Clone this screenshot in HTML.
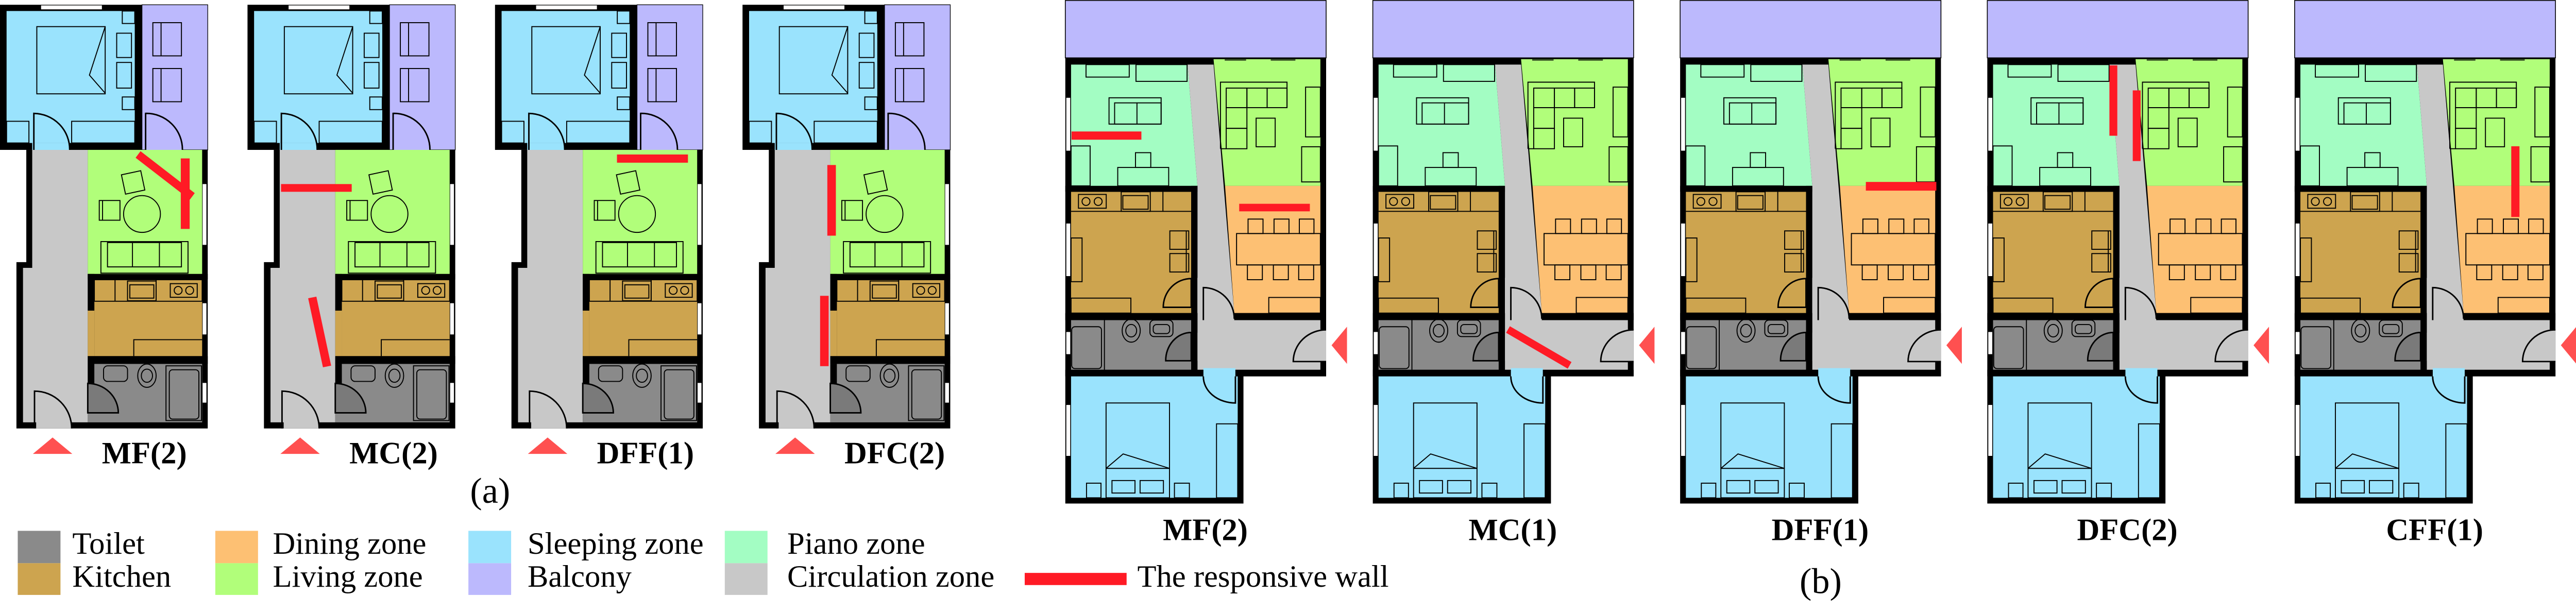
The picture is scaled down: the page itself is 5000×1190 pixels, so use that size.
<!DOCTYPE html>
<html><head><meta charset="utf-8"><style>html,body{margin:0;padding:0;background:#fff}svg{display:block}</style></head>
<body>
<svg xmlns="http://www.w3.org/2000/svg" xmlns:xlink="http://www.w3.org/1999/xlink" width="5000" height="1190" viewBox="0 0 1567.4 373" preserveAspectRatio="none">
<defs>
<g id="A" stroke-linejoin="miter">
  <!-- top block -->
  <rect x="0" y="2.9" width="86.4" height="88.3" fill="#000"/>
  <rect x="4" y="6.7" width="78" height="80.3" fill="#9ae3fd"/>
  <rect x="86.4" y="2.9" width="40" height="88.3" fill="#bcb9fd" stroke="#000" stroke-width="0.4"/>
  <rect x="126.4" y="2.9" width="0.01" height="88"/>
  <rect x="25" y="3.3" width="37" height="2.4" fill="#fff"/>
  <g fill="none" stroke="#000" stroke-width="0.6">
    <rect x="22.4" y="16.2" width="41.6" height="40.9"/>
    <polyline points="64,16.2 54.4,45.7 64,56.7"/>
    <rect x="71" y="20.2" width="9" height="14.8"/>
    <rect x="71" y="38" width="9" height="15.6"/>
    <rect x="74.4" y="6.7" width="7.6" height="7.6"/>
    <rect x="74.4" y="59" width="7.6" height="7.7"/>
    <rect x="4" y="73.8" width="13.6" height="13.2"/>
    <rect x="43.6" y="73.8" width="38.4" height="13.2"/>
    <rect x="93" y="13.8" width="17.4" height="20.2"/>
    <line x1="98" y1="13.8" x2="98" y2="34"/>
    <rect x="93" y="41.7" width="17.4" height="20.2"/>
    <line x1="98" y1="41.7" x2="98" y2="61.9"/>
  </g>
  <rect x="19.6" y="87" width="22.8" height="4.3" fill="#9ae3fd"/>
  <rect x="88.6" y="87" width="22.4" height="4.3" fill="#bcb9fd"/>
  <path d="M20.6,91.2 L20.6,69 A22,22 0 0 1 42.4,91.2" fill="none" stroke="#000" stroke-width="0.9"/>
  <path d="M88.6,91.2 L88.6,69 A22,22 0 0 1 111,91.2" fill="none" stroke="#000" stroke-width="0.9"/>
  <!-- lower block -->
  <polygon points="16,91.2 126.4,91.2 126.4,260.7 10,260.7 10,159.5 16,159.5" fill="#000"/>
  <polygon points="19.6,91.2 53.4,91.2 53.4,257 14,257 14,163 19.6,163" fill="#c8c8c8"/>
  <rect x="53.4" y="91.2" width="69.6" height="75.5" fill="#b1fe7a"/>
  <rect x="57.4" y="170" width="65.6" height="46.7" fill="#cda44f"/>
  <rect x="53.4" y="189" width="4" height="27.7" fill="#cda44f"/>
  <rect x="53.4" y="221.4" width="69.6" height="35.6" fill="#8a8a8a"/>
  <rect x="22" y="256.5" width="21.6" height="4.2" fill="#c8c8c8"/>
  <g fill="#fff"><rect x="123.3" y="112" width="2.3" height="37"/><rect x="123.3" y="184.5" width="2.3" height="19"/><rect x="123.3" y="233" width="2.3" height="12"/></g>
  <g fill="none" stroke="#000" stroke-width="0.6">
    <rect x="61.4" y="147" width="53" height="19.2"/>
    <rect x="65.4" y="147.6" width="45" height="14.8"/>
    <line x1="80.6" y1="147.6" x2="80.6" y2="162.4"/><line x1="97" y1="147.6" x2="97" y2="162.4"/>
    <ellipse cx="86.4" cy="130.2" rx="11.2" ry="11.2"/>
    <rect x="60.4" y="122" width="12.6" height="12"/><line x1="62.4" y1="122" x2="62.4" y2="134"/>
    <rect x="75" y="105" width="12" height="12" transform="rotate(-12 81 111)"/>
    <rect x="57.4" y="170.2" width="65.6" height="13.1"/>
    <line x1="70" y1="170.2" x2="70" y2="183.3"/><line x1="95" y1="170.2" x2="95" y2="183.3"/>
    <rect x="77.6" y="171" width="17.4" height="12"/><rect x="79" y="173.3" width="14.6" height="8.1"/>
    <rect x="103.6" y="172.6" width="16.4" height="8.3"/>
    <circle cx="108.4" cy="176.7" r="2.4"/><circle cx="115.4" cy="176.7" r="2.4"/>
    <polyline points="81.4,216.7 81.4,206.7 123,206.7"/>
    <rect x="63" y="222.6" width="14.6" height="9.5" rx="2.5"/>
    <ellipse cx="89.4" cy="228.6" rx="5.6" ry="7.1"/>
    <ellipse cx="89.4" cy="228.6" rx="3.4" ry="4"/>
    <rect x="101" y="222.6" width="21.6" height="33.3"/>
    <rect x="103" y="225" width="18" height="30" rx="2"/>
  </g>
  <path d="M53.4,233.3 A18.6,18 0 0 1 72,251.2 L53.4,251.2 Z" fill="#7a7a7a" stroke="#000" stroke-width="0.9"/>
  <path d="M21,260.7 L21,238 A22.6,22.7 0 0 1 43.6,260.7" fill="none" stroke="#000" stroke-width="0.9"/>
  <!-- walls bands -->
  <rect x="53.4" y="166.7" width="73" height="3.3" fill="#000"/>
  <rect x="53.4" y="166.7" width="4" height="22.3" fill="#000"/>
  <rect x="53.4" y="216.7" width="73" height="4.7" fill="#000"/>
  <rect x="53.4" y="221.4" width="4" height="11.9" fill="#000"/>
  <polygon points="20,276.2 44,276.2 32,266.2" fill="#ff5050"/>
</g>

<g id="B">
  <rect x="0" y="0.3" width="158.7" height="34.9" fill="#bcb9fd" stroke="#000" stroke-width="0.5"/>
  <polygon points="0,35.2 158.7,35.2 158.7,229 108.4,229 108.4,306.4 0,306.4" fill="#000"/>
  <polygon points="3.5,39.3 74.4,39.3 80.4,113.1 3.5,113.1" fill="#a3fdc3"/>
  <polygon points="90.2,36 155.2,36 155.2,113.1 97.2,113.1" fill="#b1fe7a"/>
  <polygon points="74.4,39.3 90.2,39.3 102.8,190.5 102.8,194.8 155.2,194.8 155.2,225 80.4,225 80.4,113.1" fill="#c8c8c8"/>
  <polygon points="97.2,113.1 155.2,113.1 155.2,190.5 102.8,190.5" fill="#fdc073"/>
  <rect x="3.5" y="116.7" width="73.1" height="73.8" fill="#cda44f"/>
  <rect x="3.5" y="194.8" width="73.1" height="30.2" fill="#8a8a8a"/>
  <rect x="3.5" y="229" width="101.4" height="73.9" fill="#9ae3fd"/>
  <rect x="84" y="224" width="19.5" height="5.5" fill="#9ae3fd"/>
  <rect x="80.4" y="169" width="4" height="26" fill="#c8c8c8"/>
  <rect x="154" y="200.5" width="4.7" height="19.5" fill="#c8c8c8"/>
  <g fill="#fff"><rect x="0.6" y="59.5" width="2.4" height="32.2"/><rect x="0.6" y="136" width="2.4" height="32"/><rect x="0.6" y="202" width="2.4" height="13.5"/><rect x="0.6" y="246.4" width="2.4" height="31"/></g>
  <g fill="none" stroke="#000" stroke-width="0.6">
    <line x1="97" y1="36.5" x2="110" y2="36.5"/><line x1="125" y1="36.5" x2="140" y2="36.5"/>
    <rect x="12.6" y="39.3" width="26.3" height="7.6"/>
    <rect x="43" y="39.3" width="31.1" height="10.2"/>
    <rect x="26.6" y="59.5" width="31.7" height="16"/>
    <rect x="30" y="62.6" width="28.3" height="12.9"/>
    <line x1="43.6" y1="62.6" x2="43.6" y2="75.5"/>
    <rect x="3.5" y="88.8" width="11.6" height="24.3"/>
    <rect x="31.9" y="101.9" width="31" height="11.2"/>
    <rect x="42.7" y="92.9" width="9.3" height="9"/>
    <polyline points="94.4,90.5 94.4,50 134.9,50 134.9,65.5"/>
    <rect x="97.9" y="53.6" width="12.6" height="11.9"/>
    <rect x="110.5" y="53.6" width="12.3" height="11.9"/>
    <rect x="122.8" y="53.6" width="12.1" height="11.9"/>
    <rect x="97.9" y="65.5" width="12.6" height="12.6"/>
    <rect x="97.9" y="78.1" width="12.6" height="12.4"/>
    <line x1="94.4" y1="90.5" x2="97.9" y2="90.5"/>
    <rect x="116.1" y="71.9" width="11.6" height="17.4"/>
    <rect x="146.2" y="53" width="9" height="30.3"/>
    <rect x="143.8" y="89.3" width="11.4" height="21.4"/>
    <rect x="104.2" y="142.1" width="51" height="19.1"/>
    <rect x="111.2" y="133.3" width="9.1" height="8.8"/><rect x="127" y="133.3" width="9.1" height="8.8"/><rect x="142.4" y="133.3" width="8.9" height="8.8"/>
    <rect x="110.8" y="161.2" width="9.1" height="9"/><rect x="126.6" y="161.2" width="9.1" height="9"/><rect x="142" y="161.2" width="9.1" height="9"/>
    <rect x="123.8" y="181" width="31.4" height="9.5"/>
    <line x1="3.5" y1="128.6" x2="76.6" y2="128.6"/>
    <rect x="8" y="118.3" width="16.9" height="8.4"/>
    <circle cx="12.6" cy="122.6" r="2.4"/><circle cx="20" cy="122.6" r="2.4"/>
    <rect x="34" y="116.7" width="17.7" height="11.9"/><rect x="35" y="119" width="15.4" height="8.3"/>
    <line x1="59.4" y1="116.7" x2="59.4" y2="128.6"/>
    <rect x="3.5" y="144.8" width="6.7" height="26.6"/>
    <rect x="3.5" y="181.4" width="36.4" height="9.1"/>
    <rect x="63.6" y="140.5" width="11.5" height="11.2"/><rect x="63.6" y="154.3" width="11.5" height="11.2"/>
    <line x1="73.6" y1="140.5" x2="73.6" y2="165.5"/>
    <rect x="3.9" y="198.8" width="18.1" height="25.5" rx="2"/>
    <line x1="23.8" y1="194.8" x2="23.8" y2="225"/>
    <ellipse cx="40.1" cy="201.2" rx="5.5" ry="7"/><ellipse cx="40.1" cy="201.2" rx="3.3" ry="3.8"/>
    <rect x="51.5" y="194.8" width="14" height="10" rx="2.5"/><rect x="53.5" y="197.5" width="10" height="5.5" rx="2"/>
    <rect x="24.8" y="245.2" width="38.6" height="57.7"/>
    <polyline points="24.8,285 35.2,276.2 63.4,285"/>
    <line x1="24.8" y1="285" x2="63.4" y2="285"/>
    <rect x="28.4" y="292.4" width="14" height="7.6"/><rect x="45.5" y="292.4" width="14.2" height="7.6"/>
    <rect x="12.9" y="294" width="8.8" height="8.9"/><rect x="66.4" y="294" width="9.1" height="8.9"/>
    <rect x="92" y="257.9" width="12.9" height="45"/>
  </g>
  <!-- inner walls -->
  <rect x="0" y="113.1" width="80.4" height="3.6" fill="#000"/>
  <rect x="76.6" y="113.1" width="3.8" height="56" fill="#000"/>
  <rect x="76.6" y="190.5" width="3.8" height="12" fill="#000"/>
  <rect x="0" y="190.5" width="80.4" height="4.3" fill="#000"/>
  <rect x="102.8" y="190.5" width="55.9" height="4.3" fill="#000"/>
  <rect x="76.6" y="219.5" width="3.8" height="5.5" fill="#000"/>
  <rect x="0" y="225" width="84" height="4" fill="#000"/>
  <rect x="103.5" y="225" width="55.2" height="4" fill="#000"/>
  <path d="M76.6,169.5 A17,17.5 0 0 0 59.6,187 L76.6,187 Z" fill="#cda44f" stroke="#000" stroke-width="0.9"/>
  <path d="M76.6,202.3 A15.5,17 0 0 0 61.1,219.5 L76.6,219.5 Z" fill="#7a7a7a" stroke="#000" stroke-width="0.9"/>
  <path d="M84,194.8 L84,175 A18.8,19 0 0 1 102.8,194" fill="none" stroke="#000" stroke-width="0.9"/>
  <path d="M158.7,200.7 A20,19.3 0 0 0 138.7,220 L158.7,220" fill="none" stroke="#000" stroke-width="0.9"/>
  <path d="M84,229 A19.5,16 0 0 0 103.5,245.2 L103.5,229" fill="none" stroke="#000" stroke-width="0.9"/>
  <polygon points="171.4,198.8 171.4,221.4 162,210.1" fill="#ff5050"/>
</g>
</defs>

<use xlink:href="#A" x="0"/>
<use xlink:href="#A" x="150.6"/>
<use xlink:href="#A" x="301.2"/>
<use xlink:href="#A" x="451.8"/>

<use xlink:href="#B" x="648.2"/>
<use xlink:href="#B" x="835.3"/>
<use xlink:href="#B" x="1022.3"/>
<use xlink:href="#B" x="1209.2"/>
<use xlink:href="#B" x="1396.2"/>

<!-- responsive walls -->
<g fill="#ff1a25">
  <polygon points="85.5,92 118.5,117.5 115.5,121.5 82.5,96"/>
  <rect x="110" y="96.4" width="5.4" height="42.9"/>
  <rect x="171" y="112" width="43" height="4.7"/>
  <polygon points="187.5,181.5 192.5,180.5 201.5,222.5 196.5,223.5"/>
  <rect x="375.4" y="94" width="43.2" height="5"/>
  <rect x="503.4" y="100.4" width="5.2" height="43"/>
  <rect x="499" y="180" width="5.2" height="42.8"/>
  <rect x="652" y="80" width="42.5" height="5"/>
  <rect x="754" y="124" width="43" height="4.6"/>
  <polygon points="918.7,198.5 956.2,220.3 953.9,224.3 916.4,202.5"/>
  <rect x="1135.3" y="110.7" width="42.9" height="5.3"/>
  <rect x="1283.5" y="39.8" width="4.8" height="42.8"/>
  <rect x="1297.7" y="55" width="4.8" height="43"/>
  <rect x="1528" y="89" width="5" height="43"/>
</g>

<g font-family="'Liberation Serif', serif" fill="#000">
  <g font-weight="bold" font-size="19">
    <text x="62" y="282">MF(2)</text>
    <text x="212.6" y="282">MC(2)</text>
    <text x="363.2" y="282">DFF(1)</text>
    <text x="513.8" y="282">DFC(2)</text>
    <g text-anchor="middle">
      <text x="733.4" y="328.6">MF(2)</text>
      <text x="920.5" y="328.6">MC(1)</text>
      <text x="1107.5" y="328.6">DFF(1)</text>
      <text x="1294.4" y="328.6">DFC(2)</text>
      <text x="1481.4" y="328.6">CFF(1)</text>
    </g>
  </g>
  <text x="286" y="306" font-size="22">(a)</text>
  <text x="1095" y="361" font-size="22">(b)</text>
  <g font-size="19">
    <rect x="10.8" y="323" width="26" height="19.7" fill="#8a8a8a"/>
    <rect x="10.8" y="342.7" width="26" height="19.3" fill="#cda44f"/>
    <rect x="131" y="323" width="26" height="19.7" fill="#fdc073"/>
    <rect x="131" y="342.7" width="26" height="19.3" fill="#b1fe7a"/>
    <rect x="285" y="323" width="26" height="19.7" fill="#9ae3fd"/>
    <rect x="285" y="342.7" width="26" height="19.3" fill="#bcb9fd"/>
    <rect x="441" y="323" width="26" height="19.7" fill="#a3fdc3"/>
    <rect x="441" y="342.7" width="26" height="19.3" fill="#c8c8c8"/>
    <rect x="623.5" y="348.6" width="62" height="7.4" fill="#ff1a25"/>
    <text x="44" y="337">Toilet</text>
    <text x="44" y="357">Kitchen</text>
    <text x="166" y="337">Dining zone</text>
    <text x="166" y="357">Living zone</text>
    <text x="321" y="337">Sleeping zone</text>
    <text x="321" y="357">Balcony</text>
    <text x="479" y="337">Piano zone</text>
    <text x="479" y="357">Circulation zone</text>
    <text x="692" y="357">The responsive wall</text>
  </g>
</g>
</svg>
</body></html>
